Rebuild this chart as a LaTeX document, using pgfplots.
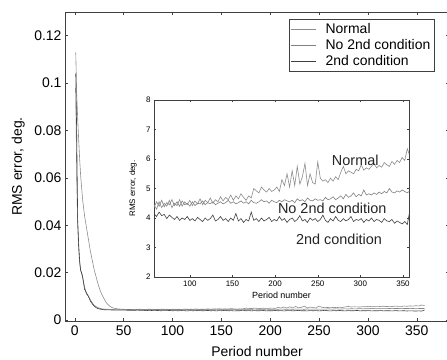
\documentclass[border=0pt]{standalone}
\usepackage{pgfplots}
\usepackage{pgfplotstable}
\pgfplotsset{compat=1.18}
\usepackage{fontspec}
\setmainfont{Liberation Sans}

% values in units of 1e-3 deg
\pgfplotstableread{
x y
1 113
2 95
3 85
4 76
5 68
6 61
7 56
8 51
10 44
12 39
14 34
16 29
18 25
20 21
22 18
24 15
26 12.5
28 10.5
30 9
32 7.5
34 6.5
36 5.8
38 5.3
40 5.0
44 4.7
48 4.6
52 4.5
55 4.45
58 4.45
61 4.30
64 4.55
67 4.35
70 4.50
73 4.40
76 4.60
79 4.35
82 4.50
85 4.42
88 4.62
91 4.40
94 4.55
97 4.45
100 4.60
103 4.42
106 4.58
109 4.48
112 4.65
115 4.45
118 4.60
121 4.52
124 4.68
127 4.50
130 4.62
133 4.55
136 4.72
139 4.58
142 4.70
145 4.62
148 4.78
151 4.60
154 4.75
157 4.65
160 4.82
163 4.70
166 4.60
169 4.75
172 4.68
175 5.00
178 4.92
181 4.85
184 5.05
187 4.95
190 4.88
193 5.00
196 4.90
199 4.95
202 5.05
205 4.90
208 5.30
211 5.10
214 5.50
217 5.05
220 5.60
223 5.10
226 5.75
229 5.15
232 5.40
235 5.85
238 5.10
241 5.50
244 5.20
247 5.15
250 5.90
253 5.35
256 5.25
259 5.30
262 5.20
265 5.35
268 5.25
271 5.40
274 5.30
277 5.55
280 5.75
283 5.50
286 5.60
289 5.55
292 5.50
295 5.65
298 5.60
301 5.80
304 5.62
307 5.70
310 5.65
313 5.75
316 5.85
319 5.70
322 5.78
325 5.72
328 5.88
331 5.80
334 5.75
337 5.92
340 5.82
343 5.95
346 5.88
349 6.05
352 5.95
355 6.35
358 6.10
}\normaltab

\pgfplotstableread{
x y
1 98
2 60
3 40
4 30
5 24
6 21
7 19.5
8 18
10 14
12 11
14 10
16 8.5
18 7.2
20 6.2
22 5.6
24 5.2
26 4.9
28 4.7
30 4.6
34 4.55
38 4.5
42 4.55
46 4.5
50 4.52
54 4.48
58 4.35
61 4.55
64 4.40
67 4.60
70 4.38
73 4.52
76 4.45
79 4.62
82 4.42
85 4.55
88 4.40
91 4.58
94 4.45
97 4.50
100 4.40
103 4.55
106 4.42
109 4.50
112 4.48
115 4.58
118 4.45
121 4.52
124 4.48
127 4.55
130 4.45
133 4.50
136 4.55
139 4.48
142 4.52
145 4.60
148 4.50
151 4.55
154 4.48
157 4.52
160 4.58
163 4.50
166 4.55
169 4.48
172 4.60
175 4.52
178 4.50
181 4.55
184 4.62
187 4.55
190 4.58
193 4.50
196 4.60
199 4.55
202 4.52
205 4.60
208 4.55
211 4.62
214 4.58
217 4.55
220 4.60
223 4.52
226 4.65
229 4.58
232 4.62
235 4.55
238 4.68
241 4.60
244 4.58
247 4.65
250 4.60
253 4.62
256 4.58
259 4.70
262 4.62
265 4.65
268 4.72
271 4.62
274 4.68
277 4.75
280 4.65
283 4.80
286 4.70
289 4.75
292 4.85
295 4.72
298 4.80
301 4.75
304 4.95
307 4.78
310 4.82
313 4.78
316 4.85
319 4.80
322 4.88
325 4.82
328 4.90
331 4.85
334 5.00
337 4.88
340 4.85
343 4.92
346 4.88
349 4.95
352 4.90
355 4.85
358 4.92
}\notab

\pgfplotstableread{
x y
1 104
2 78
3 42
4 32
5 25
6 21
7 20
8 18.5
10 13
12 11.5
14 10
16 8
18 6.8
20 5.8
22 5.2
24 4.8
26 4.6
28 4.45
30 4.35
34 4.3
38 4.25
42 4.2
46 4.22
50 4.18
54 4.15
58 4.15
61 4.05
64 4.20
67 4.08
70 4.12
73 3.98
76 4.10
79 4.02
82 3.95
85 4.05
88 3.92
91 4.00
94 3.95
97 4.05
100 3.92
103 3.98
106 3.90
109 4.02
112 3.95
115 3.88
118 4.00
121 3.92
124 3.98
127 4.10
130 3.90
133 3.95
136 4.05
139 3.92
142 3.98
145 3.88
148 4.00
151 3.92
154 4.15
157 3.90
160 3.98
163 3.85
166 3.95
169 3.90
172 4.20
175 3.92
178 3.98
181 3.88
184 4.00
187 3.90
190 3.95
193 4.02
196 3.88
199 3.95
202 3.90
205 4.05
208 3.92
211 3.98
214 3.85
217 3.95
220 4.00
223 3.88
226 3.95
229 4.08
232 3.90
235 3.95
238 3.85
241 4.00
244 3.92
247 3.98
250 3.88
253 3.95
256 4.10
259 3.92
262 3.85
265 3.98
268 3.90
271 4.05
274 3.92
277 3.88
280 3.98
283 3.90
286 3.95
289 4.05
292 3.88
295 3.95
298 3.92
301 3.98
304 3.85
307 3.95
310 3.90
313 4.00
316 3.88
319 3.95
322 3.92
325 3.85
328 3.98
331 3.90
334 3.88
337 3.95
340 3.82
343 3.90
346 3.85
349 3.80
352 3.88
355 3.78
358 4.25
}\sectab

\definecolor{cnorm}{gray}{0.55}
\definecolor{cno}{gray}{0.5}
\definecolor{csec}{gray}{0.25}

\begin{document}
\begin{tikzpicture}
\begin{axis}[
  at={(0,0)}, anchor=south west,
  scale only axis, width=384bp, height=309bp,
  xmin=-10, xmax=383, ymin=-0.0004, ymax=0.13,
  xtick={0,50,...,350},
  ytick={0,0.02,0.04,0.06,0.08,0.1,0.12},
  yticklabels={0,0.02,0.04,0.06,0.08,0.1,0.12},
  tick pos=both, tick align=inside,
  major tick length=3bp,
  axis line style={black!75},
  every tick/.style={black!75},
  /pgf/number format/assume math mode=true,
  tick label style={font=\fontsize{14}{16}\selectfont},
  xticklabel style={yshift=-1bp},
  xlabel={Period number},
  ylabel={RMS error, deg.},
  xlabel style={font=\fontsize{14}{16}\selectfont, at={(axis description cs:0.5,-0.1)}, anchor=center},
  ylabel style={font=\fontsize{14}{16}\selectfont, at={(axis description cs:-0.122,0.5)}, anchor=center},
  legend style={at={(axis description cs:0.583,0.977)}, anchor=north west,
    font=\fontsize{14}{16}\selectfont, draw=black!75, inner sep=2bp,
    row sep=0.5bp, cells={anchor=west},
    /tikz/every odd column/.append style={column sep=7bp}},
  legend image code/.code={\draw[#1] (7bp,0bp) -- (32bp,0bp);},
]
\addplot[cnorm, line width=0.6pt] table[x=x, y expr=\thisrow{y}/1000] {\normaltab};
\addlegendentry{Normal}
\addplot[cno, line width=0.6pt] table[x=x, y expr=\thisrow{y}/1000] {\notab};
\addlegendentry{No 2nd condition}
\addplot[csec, line width=0.6pt] table[x=x, y expr=\thisrow{y}/1000] {\sectab};
\addlegendentry{2nd condition}
\end{axis}

\begin{axis}[
  at={(89bp,44bp)}, anchor=south west,
  scale only axis, width=255bp, height=177bp,
  xmin=58, xmax=357, ymin=2, ymax=8,
  xtick={100,150,...,350},
  ytick={2,3,4,5,6,7,8},
  tick pos=both, tick align=inside,
  major tick length=2bp,
  axis line style={black!75},
  every tick/.style={black!75},
  axis background/.style={fill=white},
  /pgf/number format/assume math mode=true,
  tick label style={font=\fontsize{8}{9}\selectfont},
  xlabel={Period number},
  ylabel={RMS error, deg.},
  xlabel style={font=\fontsize{9}{10}\selectfont, at={(axis description cs:0.5,-0.102)}, anchor=center},
  ylabel style={font=\fontsize{8}{9}\selectfont, at={(axis description cs:-0.082,0.5)}, anchor=center},
]
\addplot[cnorm, line width=0.6pt] table[x=x, y=y] {\normaltab};
\addplot[cno, line width=0.6pt] table[x=x, y=y] {\notab};
\addplot[csec, line width=0.6pt] table[x=x, y=y] {\sectab};
\node[font=\fontsize{14.5}{16}\selectfont, text=black!85] at (axis cs:294,5.97) {Normal};
\node[font=\fontsize{14.5}{16}\selectfont, text=black!85] at (axis cs:267,4.34) {No 2nd condition};
\node[font=\fontsize{14.5}{16}\selectfont, text=black!85] at (axis cs:275,3.29) {2nd condition};
\node[font=\fontsize{6.5}{7}\selectfont, anchor=south west, inner sep=1bp] at (rel axis cs:0,1) {x 10$^{-3}$};
\end{axis}

\pgfresetboundingbox
\path[use as bounding box] (-65bp,-39bp) rectangle (382bp,321bp);
\end{tikzpicture}
\end{document}
